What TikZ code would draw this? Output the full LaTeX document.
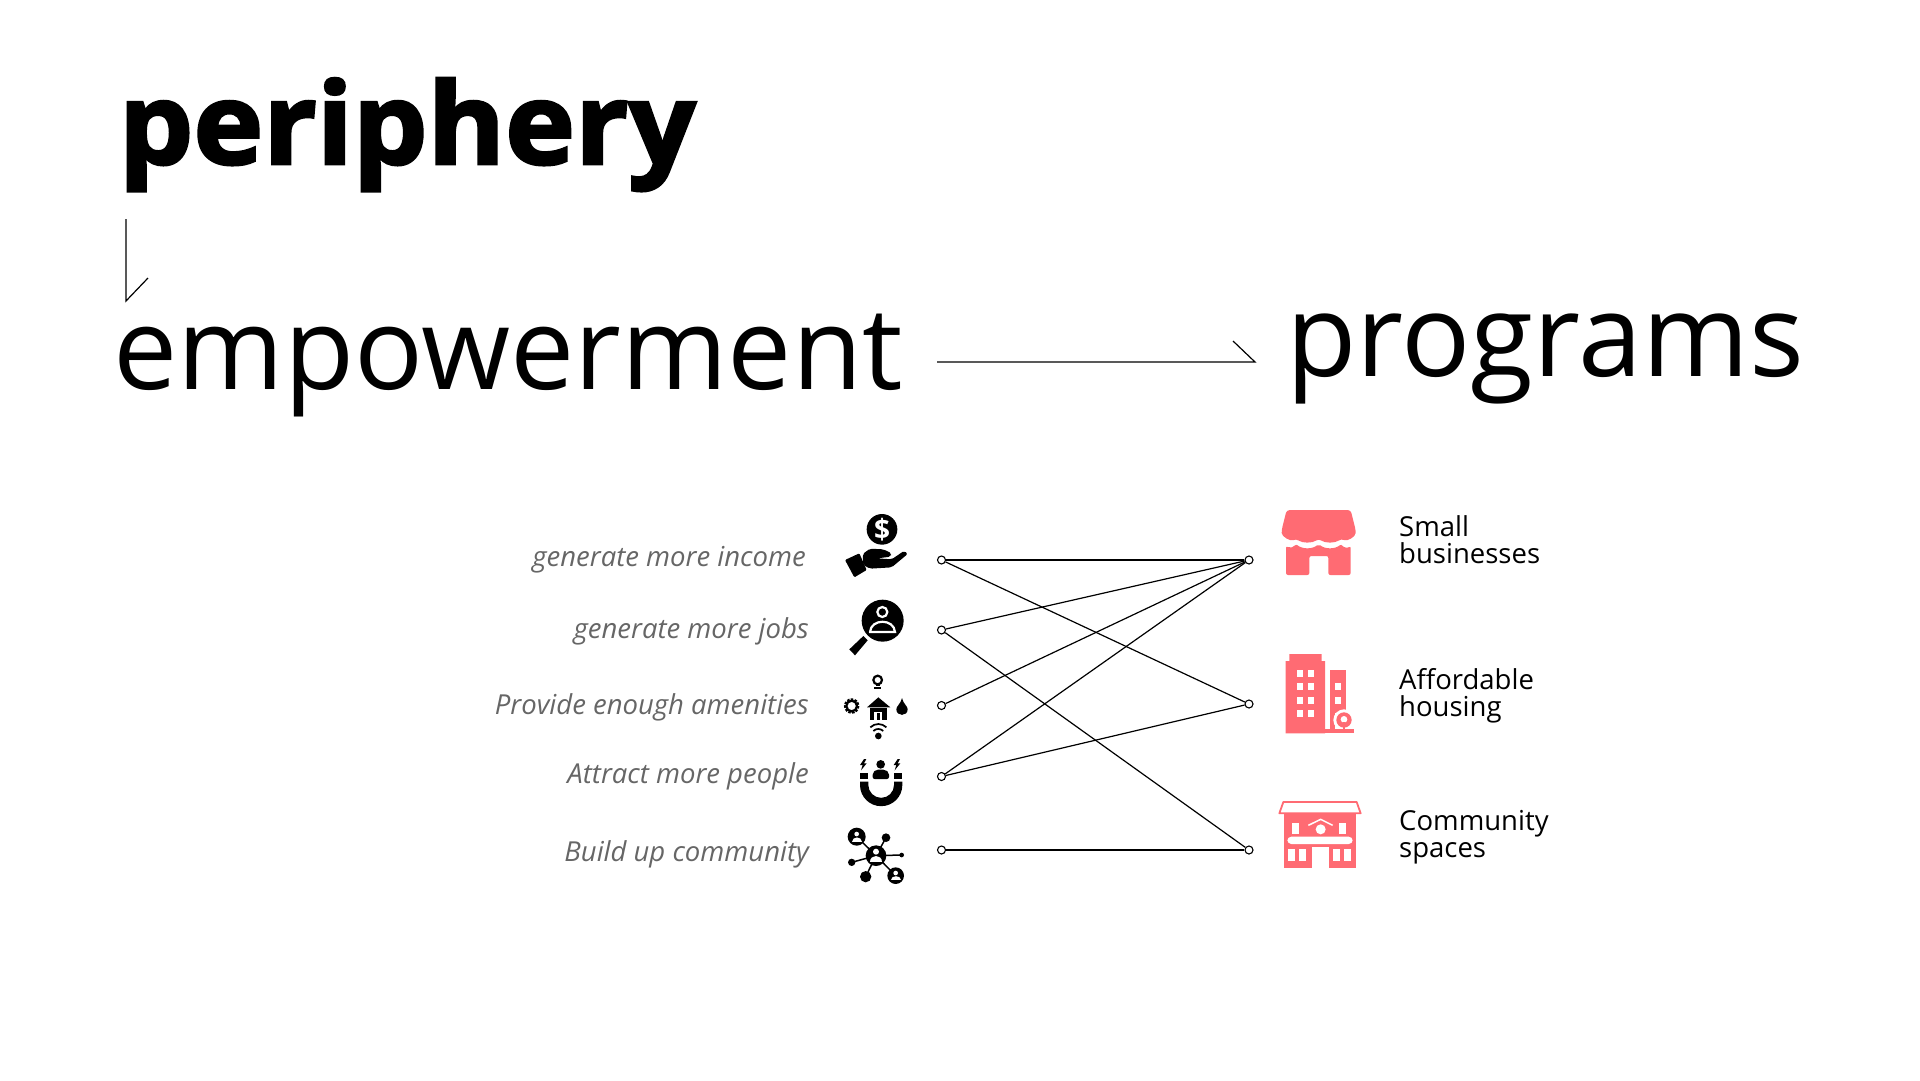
\documentclass[tikz,border=0pt]{standalone}
\usepackage{fontspec}
\setmainfont{Open Sans}
\newfontfamily\heavyfont{Open Sans}[BoldFeatures={FakeBold=2.5, FakeStretch=1.045}]
\usepackage{tikz}
\usetikzlibrary{positioning}
\definecolor{coral}{HTML}{FF6B73}
\definecolor{slate}{HTML}{666666}
\tikzstyle{dot} = [circle, draw = black, fill = white, inner sep = 0, minimum size = 8pt, line width = 1.1pt]
\tikzstyle{link} = [-, line width = 1.2pt]
\tikzstyle{title} = [anchor = base west, inner sep = 0, font = \fontsize{114.5}{114.5}\selectfont]
\tikzstyle{goal} = [anchor = base east, inner sep = 0, text = slate, font = \fontsize{27.5}{27.5}\selectfont\itshape]
\tikzstyle{prog} = [anchor = west, inner sep = 0, align = left, font = \fontsize{27.5}{27}\selectfont]
\tikzstyle{icon} = [shift = {(#1)}, scale = 1/3]

\begin{document}
\begin{tikzpicture}[x = 1pt, y = -1pt]
\useasboundingbox (0, 0) rectangle (1920, 1080);

\node [title, font = \fontsize{113}{113}\heavyfont\bfseries] (periphery) at (118.5, 164) {periphery};
\node [title] (empower) at (113.5, 389.5) {empowerment};
\node [title, font = \fontsize{115}{115}\selectfont] (programs) at (1286, 376.5) {programs};

\coordinate (d0) at (126, 219);
\coordinate (d1) at (126, 301);
\coordinate (d2) at (148, 278);
\draw [link] (d0) to (d1) to (d2);
\coordinate (r0) at (937, 362);
\coordinate (r1) at (1255, 362);
\coordinate (r2) at (1233, 341);
\draw [link] (r0) to (r1) to (r2);

% goals
\node [goal] (income) at (806, 566) {generate more income};
\node [goal] (jobs) at (809, 638) {generate more jobs};
\node [goal] (amenity) at (809, 714) {Provide enough amenities};
\node [goal] (attract) at (809, 783) {Attract more people};
\node [goal] (build) at (809, 861) {Build up community};

% programs
\node [prog] (small) at (1399, 539.5) {Small\\businesses};
\node [prog] (afford) at (1399, 696) {Affordable\\housing};
\node [prog] (space) at (1399, 837) {Community\\spaces};

\node [dot] (g1) at (941.5, 560) {};
\node [dot] (g2) at (941.5, 630) {};
\node [dot] (g3) at (941.5, 705.5) {};
\node [dot] (g4) at (941.5, 776.5) {};
\node [dot] (g5) at (941.5, 850) {};
\node [dot] (p1) at (1249, 560) {};
\node [dot] (p2) at (1249, 704) {};
\node [dot] (p3) at (1249, 850) {};

\draw [link] (g1) to (p1);
\draw [link] (g1) to (p2);
\draw [link] (g2) to (p1);
\draw [link] (g2) to (p3);
\draw [link] (g3) to (p1);
\draw [link] (g4) to (p1);
\draw [link] (g4) to (p2);
\draw [link] (g5) to (p3);

% black icons, in 3x units
\begin{scope}[icon = {820, 490}]
% income
\fill (186, 118) circle (46);
\node [inner sep = 0, text = white, font = \fontsize{28}{28}\selectfont\bfseries] (dollar) at (186, 118) {\$};
\fill [rounded corners = 1pt] (75, 210) -- (118, 190) -- (140, 240) -- (103, 262) -- cycle;
\fill [rounded corners = 2pt] (128, 192) -- (150, 176) -- (190, 178) -- (215, 190) -- (212, 200) -- (172, 205) -- (215, 208) -- (253, 182) -- (263, 192) -- (215, 232) -- (150, 236) -- (130, 225) -- cycle;
% jobs
\fill (188, 392) circle (63);
\fill (88, 478) -- (130, 438) -- (143, 451) -- (105, 496) -- cycle;
\draw [white, line width = 2.2pt] (187, 366) circle (15);
\draw [white, line width = 2.2pt] (150, 426) -- (225, 426) .. controls (222, 385) and (153, 385) .. cycle;
\end{scope}

\begin{scope}[icon = {835, 670}]
% amenities
\draw [line width = 2.2pt] (128, 30) circle (13);
\fill (118, 50) rectangle (138, 56);
\fill (122, 38) rectangle (134, 48);
\draw [line width = 2.8pt, dash pattern = on 2.4pt off 1.2pt] (50, 108) circle (19);
\draw [line width = 2.2pt] (50, 108) circle (16);
\fill (96, 112) -- (130, 82) -- (166, 112) -- cycle;
\fill (105, 115) rectangle (155, 150);
\fill [white] (118, 125) rectangle (142, 150);
\fill (126, 130) rectangle (134, 150);
\fill (201, 84) .. controls (195, 105) and (184, 108) .. (184, 118) .. controls (184, 140) and (218, 140) .. (218, 118) .. controls (218, 108) and (207, 105) .. (201, 84) -- cycle;
\fill (130, 198) circle (10);
\draw [line width = 1.7pt] (115, 183) arc (225:315:21);
\draw [line width = 1.7pt] (106, 172) arc (225:315:34);
\end{scope}

\begin{scope}[icon = {850, 755}]
% attract
\fill (92, 28) circle (13);
\fill [rounded corners = 2pt] (68, 72) -- (68, 53) -- (78, 44) -- (106, 44) -- (117, 53) -- (117, 72) -- cycle;
\fill (30, 55) rectangle (55, 72);
\fill (132, 55) rectangle (157, 72);
\fill (30, 80) -- (55, 80) -- (55, 90) arc (180:0:38.5) -- (132, 80) -- (157, 80) -- (157, 90) arc (0:180:63.5) -- cycle;
\fill (42, 12) -- (30, 30) -- (38, 30) -- (33, 46) -- (50, 25) -- (42, 25) -- (49, 12) -- cycle;
\fill (143, 12) -- (131, 30) -- (139, 30) -- (134, 46) -- (151, 25) -- (143, 25) -- (150, 12) -- cycle;
\end{scope}

\begin{scope}[icon = {840, 825}]
% community
\draw [line width = 1.5pt] (50, 35) -- (108, 92) -- (138, 38);
\draw [line width = 1.5pt] (185, 90) -- (108, 92) -- (35, 112);
\draw [line width = 1.5pt] (77, 155) -- (108, 92) -- (167, 152);
\fill (50, 35) circle (27);
\fill (138, 38) circle (13);
\fill (185, 90) circle (7);
\fill (35, 112) circle (11);
\fill (77, 155) circle (17);
\fill (167, 152) circle (25);
\fill (108, 92) circle (31);
\fill [white] (50, 27) circle (7);
\fill [white] (35, 50) .. controls (35, 34) and (65, 34) .. (65, 50) -- cycle;
\fill [white] (167, 144) circle (7);
\fill [white] (152, 166) .. controls (152, 150) and (182, 150) .. (182, 166) -- cycle;
\fill [white] (108, 80) circle (9);
\fill [white] (90, 110) .. controls (90, 88) and (126, 88) .. (126, 110) -- cycle;
\end{scope}

% coral icons
\begin{scope}[icon = {1260, 490}, coral]
% store
\fill [rounded corners = 3pt] (80, 60) -- (272, 60) -- (287, 120) .. controls (287, 140) and (262, 155) .. (244, 146) .. controls (225, 160) and (195, 160) .. (176, 146) .. controls (157, 160) and (127, 160) .. (108, 146) .. controls (92, 155) and (65, 140) .. (65, 120) -- cycle;
\fill [rounded corners = 2pt] (78, 168) .. controls (90, 175) and (100, 172) .. (108, 162) .. controls (127, 178) and (157, 178) .. (176, 162) .. controls (195, 178) and (225, 178) .. (244, 162) .. controls (250, 172) and (262, 175) .. (272, 168) -- (272, 255) -- (205, 255) -- (205, 198) -- (148, 198) -- (148, 255) -- (78, 255) -- cycle;
% housing
\fill (77, 513) -- (88, 513) -- (88, 492) -- (185, 492) -- (185, 513) -- (195, 513) -- (195, 730) -- (77, 730) -- cycle;
\fill (210, 540) rectangle (258, 670);
\fill (210, 670) rectangle (225, 730);
\fill (190, 718) rectangle (283, 730);
\foreach \wx in {112, 145} \foreach \wy in {540, 580, 620, 660} {
  \fill [white] (\wx, \wy) rectangle ++(17, 21);
}
\foreach \wy in {580, 620} {
  \fill [white] (226, \wy) rectangle ++(17, 21);
}
\fill [white] (252, 690) circle (32);
\fill (252, 690) circle (23);
\fill [white] (252, 688) circle (10);
\fill (248, 695) rectangle (256, 720);
\fill (225, 718) rectangle (283, 730);
% hall
\draw [line width = 1.8pt, line join = round, fill = white] (58, 970) -- (70, 936) -- (290, 936) -- (302, 970) -- cycle;
\fill (72, 972) rectangle (288, 1135);
\fill [white] (157, 1072) rectangle (207, 1135);
\fill [white, rounded corners = 4pt] (82, 1040) rectangle (278, 1062);
\foreach \wx in {84, 118, 220, 253} {
  \fill [white] (\wx, 1078) rectangle ++(20, 34);
}
\foreach \wx in {97, 238} {
  \fill [white] (\wx, 998) rectangle ++(21, 33);
}
\fill [white] (182, 1018) circle (15);
\draw [white, line width = 1.5pt, line join = round] (145, 1006) -- (182, 988) -- (218, 1006);
\end{scope}
\end{tikzpicture}
\end{document}
